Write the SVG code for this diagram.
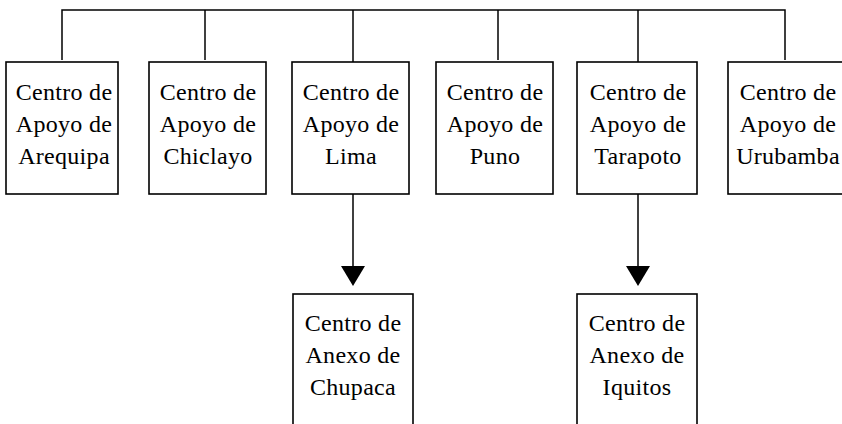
<svg xmlns="http://www.w3.org/2000/svg" width="842" height="424" viewBox="0 0 842 424">
<style>
.box{fill:#fff;stroke:#000;stroke-width:1.6}
.t{font-family:"Liberation Serif","DejaVu Serif",serif;font-size:24px;letter-spacing:0.3px;fill:#000;text-anchor:middle}
.c{stroke:#000;stroke-width:1.5;fill:none}
.ah{fill:#000}
</style>
<g id="connectors">
<path class="c" d="M62,60 V10 H785 V60"/>
<path class="c" d="M205,10 V60"/>
<path class="c" d="M353,10 V62"/>
<path class="c" d="M498,10 V60"/>
<path class="c" d="M638,10 V62"/>
<path class="c" d="M353,194 V266"/>
<path class="ah" d="M341,266 L365,266 L353,286 Z"/>
<path class="c" d="M638,194 V266"/>
<path class="ah" d="M626,266 L650,266 L638,286 Z"/>
</g>
<g id="n1"><rect class="box" x="6" y="62" width="112" height="132"/>
<text class="t" x="64" y="100">Centro de</text><text class="t" x="64" y="132">Apoyo de</text><text class="t" x="64" y="164">Arequipa</text></g>
<g id="n2"><rect class="box" x="149" y="62" width="117" height="132"/>
<text class="t" x="208" y="100">Centro de</text><text class="t" x="208" y="132">Apoyo de</text><text class="t" x="208" y="164">Chiclayo</text></g>
<g id="n3"><rect class="box" x="292" y="62" width="117" height="132"/>
<text class="t" x="351" y="100">Centro de</text><text class="t" x="351" y="132">Apoyo de</text><text class="t" x="351" y="164">Lima</text></g>
<g id="n4"><rect class="box" x="436" y="62" width="117" height="132"/>
<text class="t" x="495" y="100">Centro de</text><text class="t" x="495" y="132">Apoyo de</text><text class="t" x="495" y="164">Puno</text></g>
<g id="n5"><rect class="box" x="577" y="62" width="120" height="132"/>
<text class="t" x="638" y="100">Centro de</text><text class="t" x="638" y="132">Apoyo de</text><text class="t" x="638" y="164">Tarapoto</text></g>
<g id="n6"><rect class="box" x="728" y="62" width="124" height="132"/>
<text class="t" x="788" y="100">Centro de</text><text class="t" x="788" y="132">Apoyo de</text><text class="t" x="788" y="164">Urubamba</text></g>
<g id="n7"><rect class="box" x="293" y="294" width="120" height="140"/>
<text class="t" x="353" y="331">Centro de</text><text class="t" x="353" y="363">Anexo de</text><text class="t" x="353" y="395">Chupaca</text></g>
<g id="n8"><rect class="box" x="577" y="294" width="120" height="140"/>
<text class="t" x="637" y="331">Centro de</text><text class="t" x="637" y="363">Anexo de</text><text class="t" x="637" y="395">Iquitos</text></g>
</svg>
